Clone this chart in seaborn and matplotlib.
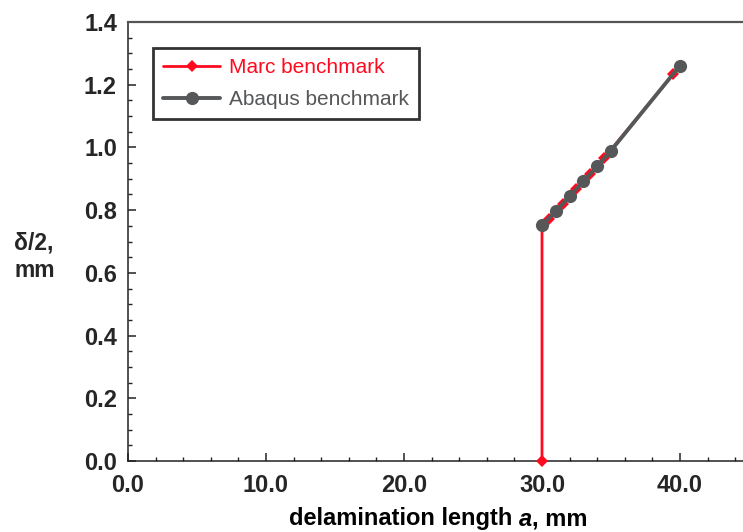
import matplotlib
matplotlib.use("Agg")
import matplotlib.pyplot as plt
import seaborn as sns
import pandas as pd
from matplotlib.ticker import MultipleLocator, FormatStrFormatter
from matplotlib.offsetbox import TextArea, HPacker, AnchoredOffsetbox

# Data
marc_a = [30.0, 30.0, 30.5, 31.5, 32.5, 33.5, 34.5, 39.5]
marc_d = [0.0, 0.75, 0.773, 0.821, 0.869, 0.916, 0.966, 1.233]
abaqus_a = [30.0, 31.0, 32.0, 33.0, 34.0, 35.0, 40.0]
abaqus_d = [0.752, 0.796, 0.844, 0.892, 0.940, 0.990, 1.261]

marc_df = pd.DataFrame({"a": marc_a, "d": marc_d})
abaqus_df = pd.DataFrame({"a": abaqus_a, "d": abaqus_d})

sns.set_style("white")
plt.rcParams["font.family"] = ["Liberation Sans", "DejaVu Sans"]

RED = "#ff0a1e"
GRAY = "#555759"

fig = plt.figure(figsize=(7.43, 5.32), dpi=100)
W, H = 743, 532
left_px, top_px, bottom_px = 128, 22, 461
right_px = 749
ax = fig.add_axes([left_px / W, 1 - bottom_px / H, (right_px - left_px) / W, (bottom_px - top_px) / H])

sns.lineplot(data=marc_df, x="a", y="d", ax=ax, sort=False, estimator=None,
             color=RED, lw=2.0, marker="D", markersize=6, markeredgewidth=0,
             label="Marc benchmark", clip_on=False, zorder=3)
sns.lineplot(data=abaqus_df, x="a", y="d", ax=ax, sort=False, estimator=None,
             color=GRAY, lw=2.8, marker="o", markersize=9.5, markeredgewidth=0,
             label="Abaqus benchmark", clip_on=False, zorder=4)

ax.set_xlim(0, 45)
ax.set_ylim(0, 1.4)
ax.xaxis.set_major_locator(MultipleLocator(10))
ax.xaxis.set_minor_locator(MultipleLocator(2))
ax.yaxis.set_major_locator(MultipleLocator(0.2))
ax.yaxis.set_minor_locator(MultipleLocator(0.05))
ax.xaxis.set_major_formatter(FormatStrFormatter("%.1f"))
ax.yaxis.set_major_formatter(FormatStrFormatter("%.1f"))

ax.tick_params(axis="both", which="major", direction="in", length=6, width=1.1,
               labelsize=17, color="#222222", bottom=True, left=True, top=False, right=False)
ax.tick_params(axis="both", which="minor", direction="in", length=3.2, width=1.0,
               color="#222222", bottom=True, left=True, top=False, right=False)
ax.tick_params(axis="x", which="major", pad=9)
ax.tick_params(axis="y", which="major", pad=8)
for lab in ax.get_xticklabels() + ax.get_yticklabels():
    lab.set_fontweight("bold")

for side in ["left", "bottom"]:
    ax.spines[side].set_color("#222222")
    ax.spines[side].set_linewidth(1.1)
ax.spines["top"].set_color("#555555")
ax.spines["top"].set_linewidth(1.6)
ax.spines["right"].set_visible(False)

ax.set_xlabel("")
ax.set_ylabel("")

# x label with italic "a"
props = dict(fontsize=17, fontweight="bold", color="black")
parts = [TextArea("delamination length ", textprops=props),
         TextArea("a", textprops=dict(props, style="italic")),
         TextArea(", mm", textprops=props)]
pack = HPacker(children=parts, align="baseline", pad=0, sep=0)
xlab = AnchoredOffsetbox(loc="center", child=pack, pad=0, frameon=False,
                         bbox_to_anchor=(438 / W, 1 - 519 / H),
                         bbox_transform=fig.transFigure, borderpad=0)
fig.add_artist(xlab)

fig.text(14 / W, 1 - 257 / H, "δ/2,\nmm", ha="left", va="center",
         fontsize=16.5, fontweight="bold", linespacing=1.25)

leg = ax.legend(loc="upper left",
                bbox_to_anchor=((153 - left_px) / (right_px - left_px),
                                1 - (48 - top_px) / (bottom_px - top_px)),
                frameon=True, fancybox=False, fontsize=15, handlelength=2.7,
                borderpad=0.5, labelspacing=0.6, handletextpad=0.45, borderaxespad=0)
leg.get_frame().set_edgecolor("black")
leg.get_frame().set_linewidth(2.0)
for txt, c in zip(leg.get_texts(), [RED, GRAY]):
    txt.set_color(c)

fig.savefig("out.png", dpi=100)
